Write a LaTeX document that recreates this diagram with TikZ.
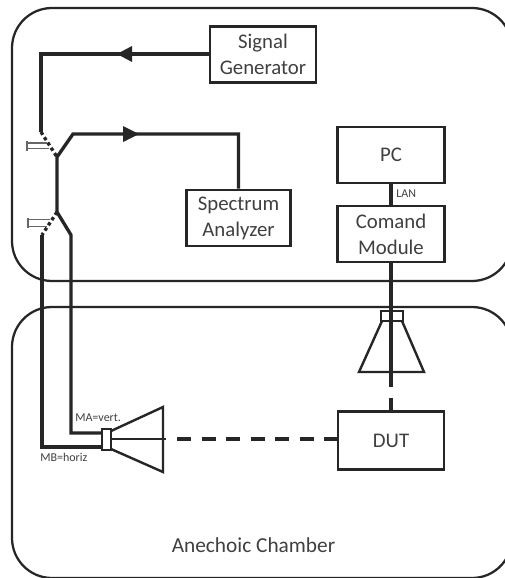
\documentclass[tikz,border=0pt]{standalone}
\usepackage{fontspec}
\setmainfont{Carlito}
\definecolor{ink}{HTML}{262626}
\definecolor{txt}{HTML}{404040}
\tikzset{
  px/.style={x=0.75pt,y=-0.75pt},
  chamber/.style={draw=ink,line width=1.7pt,rounded corners=30pt},
  boxn/.style={draw=ink,line width=2.1pt,fill=white,text=txt,align=center,inner sep=0pt,font=\fontsize{15.6pt}{19.5pt}\selectfont},
  wire/.style={draw=ink,line width=2.5pt,line join=miter},
  horn/.style={draw=ink,line width=1.8pt,line join=miter},
  dots/.style={draw=ink,line width=2.5pt,dash pattern=on 2.5pt off 2.2pt},
  act/.style={draw=gray!80!black,line width=0.9pt},
  smalltext/.style={text=txt,inner sep=0pt,font=\fontsize{9pt}{10pt}\selectfont},
  tip/.style={fill=ink,draw=none},
  bigtext/.style={text=txt,inner sep=0pt,font=\fontsize{16pt}{19pt}\selectfont}
}
\begin{document}
\begin{tikzpicture}[px]
\clip (0,0) rectangle (505,578);
\fill[white] (0,0) rectangle (505,578);
% chambers
\draw[chamber] (12,8) rectangle (512,281);
\draw[chamber] (12,307) rectangle (512,578);
% boxes
\node[boxn,minimum width=79.5pt,minimum height=42.5pt] (sg) at (263,54.5) {Signal\\Generator};
\node[boxn,minimum width=78.5pt,minimum height=42pt] (sa) at (238.5,218) {Spectrum\\Analyzer};
\node[boxn,minimum width=80pt,minimum height=42pt] (pc) at (391,155) {PC};
\node[boxn,minimum width=80pt,minimum height=42pt] (cm) at (391,234) {Comand\\Module};
\node[boxn,minimum width=79.5pt,minimum height=43pt] (dut) at (391,440.5) {DUT};
% named points
\coordinate (tl) at (41,54);
\coordinate (sw1a) at (41,132);
\coordinate (sw1c) at (57,157);
\coordinate (sw1b) at (73,134);
\coordinate (sw2c) at (57,212);
\coordinate (sw2b) at (71,235);
\coordinate (sw2a) at (42,235);
\coordinate (fl1) at (102,433);
\coordinate (fl2) at (102,447);
\coordinate (hornmouth) at (166,439);
\coordinate (hornv) at (391,387);
\coordinate (hornvb) at (391,398);
\coordinate (dashstart) at (177,439);
\coordinate (ma1) at (71,433);
\coordinate (mb1) at (42,447);
% wires
\draw[wire] (sg.west |- tl) -- (tl) -- (sw1a);
\draw[dots] (sw1a) -- (sw1c);
\draw[wire] (sa.north) -- (sa.north |- sw1b) -- (sw1b) -- (sw1c) -- (sw2c) -- (sw2b) -- (ma1) -- (fl1);
\draw[dots] (sw2c) -- (sw2a);
\draw[wire] (sw2a) -- (mb1) -- (fl2);
\draw[wire] (pc.south) -- (cm.north);
\draw[wire] (cm.south) -- (hornv);
\draw[wire] (hornvb) -- (dut.north);
\draw[wire,dash pattern=on 10.5pt off 7.9pt] (dashstart) -- (dut.west |- dashstart);
% arrowheads
\fill[tip] (117,54) -- (132,46) -- (132,62) -- cycle;
\fill[tip] (139,134) -- (123,126) -- (123,142) -- cycle;
% switch actuators
\draw[act] (27,140.5) -- (27,151);
\draw[act] (27,143) -- (47,143);
\draw[act] (27,148.5) -- (49,148.5);
\draw[act] (28,218) -- (28,228);
\draw[act] (28,219.5) -- (50,219.5);
\draw[act] (28,226.5) -- (47,226.5);
% horizontal horn
\draw[horn] (111,431) -- (163,407) -- (163,472) -- (111,449);
\draw[horn] (102,429) rectangle (111,450);
\draw[horn] (111,439) -- (hornmouth);
% vertical horn
\draw[horn] (382,321) -- (359,372) -- (424,372) -- (402,321);
\draw[horn] (381,311) rectangle (403,321);
% labels
\node[smalltext,anchor=west] (lan) at (396,194) {LAN};
\node[smalltext,anchor=west] (ma) at (75,418) {MA=vert.};
\node[smalltext,anchor=west] (mb) at (40,457) {MB=horiz};
\node[bigtext] (ac) at (253.5,545) {Anechoic Chamber};
\end{tikzpicture}
\end{document}
